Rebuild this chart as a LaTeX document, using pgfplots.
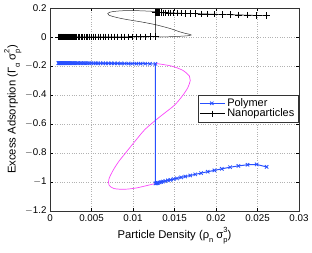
\documentclass[border=0pt]{standalone}
\usepackage{fontspec}
\setmainfont{Liberation Sans}
\usepackage{pgfplots}
\usepackage{pgfplotstable}
\pgfplotsset{compat=1.18}
\definecolor{polblue}{RGB}{40,80,255}
\definecolor{loopmag}{RGB}{250,70,250}
\definecolor{loopgray}{RGB}{50,50,50}
\pgfplotstableread{
x np pol
0.001000 0.0000 -0.1800
0.001050 0.0000 -0.1800
0.001103 0.0000 -0.1800
0.001158 0.0000 -0.1800
0.001216 0.0000 -0.1800
0.001276 0.0000 -0.1800
0.001340 0.0000 -0.1800
0.001407 0.0000 -0.1800
0.001478 0.0000 -0.1800
0.001551 0.0000 -0.1800
0.001629 0.0000 -0.1801
0.001710 0.0000 -0.1801
0.001796 0.0000 -0.1801
0.001886 0.0000 -0.1801
0.001980 0.0001 -0.1801
0.002079 0.0001 -0.1801
0.002183 0.0001 -0.1801
0.002292 0.0001 -0.1802
0.002407 0.0001 -0.1802
0.002527 0.0001 -0.1802
0.002653 0.0001 -0.1802
0.002786 0.0001 -0.1803
0.002925 0.0001 -0.1803
0.003072 0.0002 -0.1803
0.003225 0.0002 -0.1804
0.003386 0.0002 -0.1804
0.003556 0.0002 -0.1805
0.003734 0.0002 -0.1805
0.003920 0.0003 -0.1806
0.004116 0.0003 -0.1806
0.004322 0.0003 -0.1807
0.004538 0.0003 -0.1808
0.004765 0.0004 -0.1809
0.005003 0.0004 -0.1810
0.005253 0.0004 -0.1811
0.005516 0.0005 -0.1812
0.005792 0.0005 -0.1813
0.006081 0.0006 -0.1814
0.006386 0.0006 -0.1815
0.006705 0.0007 -0.1817
0.007040 0.0007 -0.1818
0.007392 0.0008 -0.1820
0.007762 0.0009 -0.1822
0.008150 0.0010 -0.1824
0.008557 0.0011 -0.1826
0.008985 0.0012 -0.1828
0.009434 0.0013 -0.1830
0.009906 0.0014 -0.1833
0.010401 0.0016 -0.1836
0.010921 0.0017 -0.1839
0.011467 0.0019 -0.1842
0.012041 0.0021 -0.1846
0.012700 0.0023 -0.1850
0.012700 0.1700 -1.0100
0.012800 0.1695 -1.0090
0.012900 0.1691 -1.0080
0.013000 0.1687 -1.0060
0.013200 0.1682 -1.0030
0.013400 0.1678 -1.0000
0.013600 0.1674 -0.9970
0.013900 0.1669 -0.9930
0.014200 0.1664 -0.9890
0.014500 0.1659 -0.9850
0.014900 0.1652 -0.9800
0.015300 0.1645 -0.9750
0.015800 0.1637 -0.9680
0.016300 0.1629 -0.9620
0.016900 0.1619 -0.9550
0.017500 0.1609 -0.9470
0.018200 0.1597 -0.9390
0.019000 0.1584 -0.9290
0.019800 0.1571 -0.9200
0.020700 0.1556 -0.9090
0.021700 0.1540 -0.8980
0.022700 0.1523 -0.8890
0.023800 0.1506 -0.8810
0.024900 0.1489 -0.8790
0.026100 0.1470 -0.8960
}\branches
\pgfplotstableread{
x y
0.0127 -0.182
0.0146 -0.200
0.0160 -0.230
0.0168 -0.270
0.0169 -0.300
0.0166 -0.350
0.0159 -0.410
0.0150 -0.470
0.0138 -0.525
0.0127 -0.575
0.0114 -0.640
0.0102 -0.722
0.0091 -0.800
0.0082 -0.865
0.0075 -0.930
0.0071 -0.980
0.0071 -1.020
0.0077 -1.045
0.0090 -1.050
0.0105 -1.040
0.0127 -1.010
}\polloop
\pgfplotstableread{
x y
0.0127 0.000
0.0145 0.002
0.0160 0.006
0.0168 0.010
0.0170 0.014
0.0168 0.019
0.0163 0.025
0.0155 0.038
0.0145 0.058
0.0127 0.085
0.0110 0.104
0.0095 0.118
0.0084 0.130
0.0076 0.141
0.0071 0.151
0.00695 0.162
0.0072 0.171
0.0080 0.178
0.0092 0.182
0.0108 0.181
0.0127 0.176
}\nploop
\newcommand{\supsub}[2]{\makebox[0pt][l]{\raisebox{1.05ex}{\fontsize{7.5}{8}\selectfont #1}}\raisebox{-0.7ex}{\fontsize{7.5}{8}\selectfont #2}}
\newcommand{\sub}[1]{\raisebox{-0.7ex}{\fontsize{7.5}{8}\selectfont #1}}
\begin{document}
\begin{tikzpicture}
\useasboundingbox (0,0) rectangle (312bp,253bp);
\begin{axis}[
  at={(50bp,42bp)}, anchor=south west,
  scale only axis, width=249bp, height=203bp,
  xmin=0, xmax=0.03, ymin=-1.2, ymax=0.2,
  xtick={0,0.005,...,0.03},
  ytick={-1.2,-1,-0.8,-0.6,-0.4,-0.2,0,0.2},
  xticklabels={0,0.005,0.01,0.015,0.02,0.025,0.03},
  yticklabels={$-$1.2,$-$1,$-$0.8,$-$0.6,$-$0.4,$-$0.2,0,0.2},
  scaled x ticks=false,
  tick align=inside,
  tick style={black, thin},
  major tick length=3bp,
  grid=major,
  grid style={dotted, gray!60},
  axis line style={black!80},
  tick label style={font=\fontsize{9.8}{12}\selectfont},
  label style={font=\fontsize{11.3}{13}\selectfont},
  xlabel={Particle Density (ρ\sub{n} σ\supsub{3}{p})},
  ylabel={Excess Adsorption (Γ\sub{α} σ\supsub{2}{p})},
  xlabel style={yshift=1bp},
  ylabel style={yshift=-3bp},
  legend style={at={(rel axis cs:0.996,0.572)}, anchor=north east,
    font=\fontsize{11}{12}\selectfont, draw=black!80, row sep=-3bp,
    inner sep=1.5bp},
  legend cell align=left,
  legend image post style={sharp plot},
  legend image code/.code={\draw[#1] (0bp,0bp) -- (12bp,0bp) plot coordinates {(12bp,0bp)} -- (25bp,0bp);},
]
\addplot[loopmag, line width=0.7pt, smooth, forget plot] table[x=x,y=y] {\polloop};
\addplot[loopgray, line width=0.5pt, smooth, forget plot] table[x=x,y=y] {\nploop};
\addplot[polblue, line width=1pt, mark=x, mark size=2.4bp, mark options={line width=0.8pt}] table[x=x,y=pol] {\branches};
\addlegendentry{Polymer}
\addplot[black, line width=0.6pt, mark=+, mark size=3.2bp, mark options={line width=0.6pt}] table[x=x,y=np] {\branches};
\addlegendentry{Nanoparticles}
\end{axis}
\end{tikzpicture}
\end{document}
